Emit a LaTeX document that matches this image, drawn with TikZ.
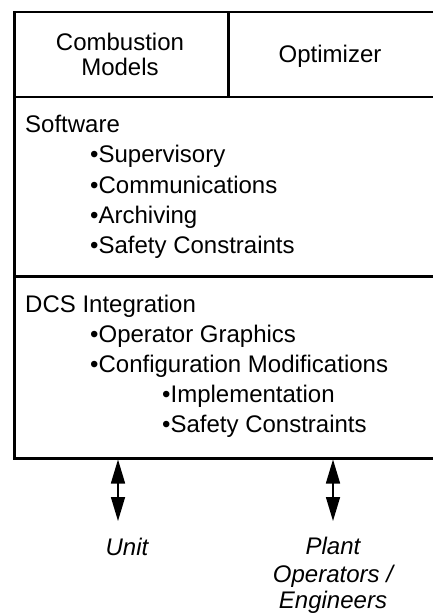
\documentclass[tikz,border=0pt]{standalone}
\usepackage{fontspec}
\setmainfont{Liberation Sans}
\usetikzlibrary{arrows.meta}
\begin{document}
\begin{tikzpicture}[x=1bp,y=-1bp,
  frame/.style={draw, line width=2.5bp, inner sep=0pt, anchor=north west},
  txt/.style={inner sep=0pt, anchor=base west, font=\fontsize{24bp}{30bp}\selectfont},
  ctxt/.style={inner sep=0pt, anchor=base, font=\fontsize{24bp}{30bp}\selectfont},
  itxt/.style={inner sep=0pt, anchor=base, font=\fontsize{24bp}{30bp}\selectfont\itshape},
  biarrow/.style={line width=1.6bp, {Triangle[length=24bp,width=14bp]}-{Triangle[length=24bp,width=14bp]}}
]
\useasboundingbox (0,0) rectangle (432,614);
% frame cells
\node[frame, minimum width=214bp, minimum height=85bp] (comb) at (13,11) {};
\node[frame, minimum width=207bp, minimum height=85bp] (opt) at (227,11) {};
\node[frame, minimum width=421bp, minimum height=179bp] (soft) at (13,96) {};
\node[frame, minimum width=421bp, minimum height=182bp] (dcs) at (13,275) {};
% top row
\node[ctxt] (t1) at (120,51) {Combustion};
\node[ctxt] (t2) at (120,76) {Models};
\node[ctxt] (t3) at (330,63) {Optimizer};
% software
\node[txt] (s0) at (25,133) {Software};
\node[txt] (s1) at (90,163) {•Supervisory};
\node[txt] (s2) at (90,193) {•Communications};
\node[txt] (s3) at (90,223) {•Archiving};
\node[txt] (s4) at (90,253) {•Safety Constraints};
% DCS
\node[txt] (d0) at (25,312) {DCS Integration};
\node[txt] (d1) at (90,342) {•Operator Graphics};
\node[txt] (d2) at (90,372) {•Configuration Modifications};
\node[txt] (d3) at (162,402) {•Implementation};
\node[txt] (d4) at (162,432) {•Safety Constraints};
% arrows
\coordinate (ua) at (118,521);
\coordinate (pa) at (333,521);
\draw[biarrow] (ua |- dcs.south) -- (ua);
\draw[biarrow] (pa |- dcs.south) -- (pa);
% bottom labels
\node[itxt] (unit) at (127,555) {Unit};
\node[itxt] (p1) at (333,554) {Plant};
\node[itxt] (p2) at (333,582) {Operators /};
\node[itxt] (p3) at (333,608) {Engineers};
\end{tikzpicture}
\end{document}
